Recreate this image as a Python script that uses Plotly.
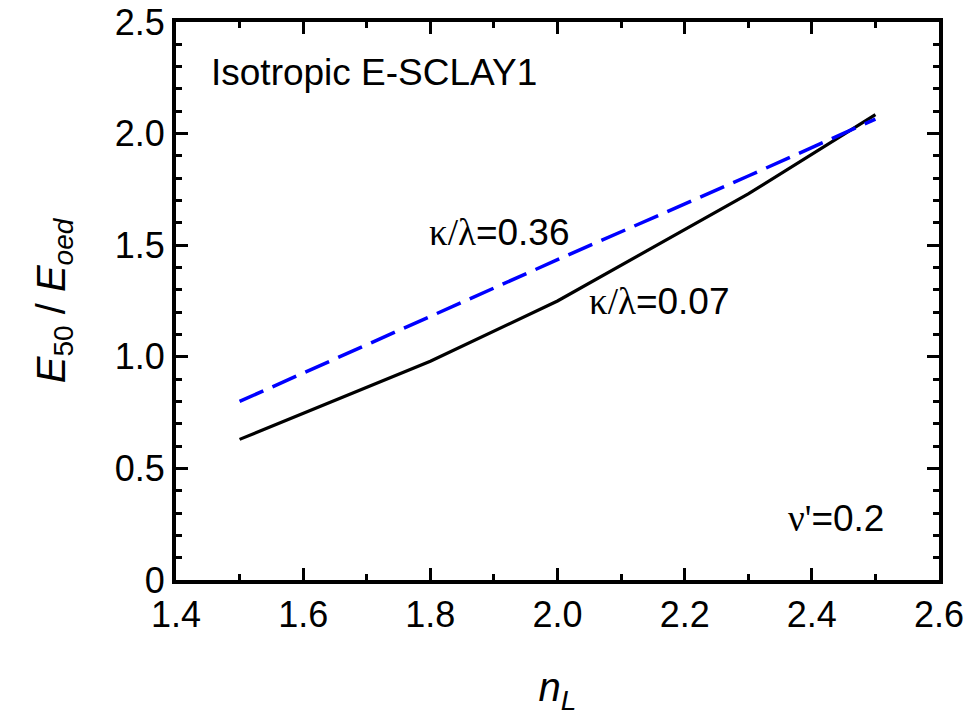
import plotly.graph_objects as go

# data
nL = [1.5, 1.8, 2.0, 2.3, 2.5]
ratio_007 = [0.63, 0.98, 1.25, 1.73, 2.085]
ratio_036 = [0.80, 1.18, 1.435, 1.81, 2.065]

x_ticks = [1.4, 1.6, 1.8, 2.0, 2.2, 2.4, 2.6]
y_ticks = [0, 0.5, 1.0, 1.5, 2.0, 2.5]
y_ticktext = ["0", "0.5", "1.0", "1.5", "2.0", "2.5"]

FONT = "Liberation Sans, Arial, sans-serif"

fig = go.Figure()
fig.add_trace(go.Scatter(x=nL, y=ratio_007, mode="lines",
                         line=dict(color="black", width=3.2), showlegend=False))
fig.add_trace(go.Scatter(x=nL, y=ratio_036, mode="lines",
                         line=dict(color="#0000ff", width=3.5, dash="26px,10px"), showlegend=False))

axis_common = dict(
    showline=True, linecolor="black", linewidth=4, mirror="ticks",
    ticks="inside", ticklen=12, tickwidth=3, tickcolor="black",
    showgrid=False, zeroline=False, automargin=False,
    tickfont=dict(family=FONT, size=36, color="black"),
)

fig.update_xaxes(range=[1.4, 2.6], tickvals=x_ticks,
                 ticktext=[f"{v:.1f}" for v in x_ticks],
                 minor=dict(dtick=0.1, ticklen=6, tickwidth=3, tickcolor="black", ticks="inside"),
                 title=dict(text="<i>n<sub>L</sub></i>", font=dict(family=FONT, size=40), standoff=40),
                 **axis_common)
fig.update_yaxes(range=[0, 2.5], tickvals=y_ticks, ticktext=y_ticktext,
                 minor=dict(dtick=0.1, ticklen=6, tickwidth=3, tickcolor="black", ticks="inside"),
                 title=dict(text="<i>E</i><sub>50</sub> / <i>E<sub>oed</sub></i>", font=dict(family=FONT, size=40), standoff=38),
                 **axis_common)

def ann(x, y, text):
    fig.add_annotation(x=x, y=y, xref="x", yref="y", text=text, showarrow=False,
                       xanchor="left", yanchor="middle",
                       font=dict(family=FONT, size=37, color="black"))

SER = "<span style='font-family:Liberation Serif, Times New Roman, serif'>"
ann(1.452, 2.275, "Isotropic E-SCLAY1")
ann(1.794, 1.555, SER + "κ/λ</span>=0.36")
ann(2.046, 1.25, SER + "κ/λ</span>=0.07")
ann(2.360, 0.275, SER + "ν'</span>=0.2")

fig.update_layout(
    width=969, height=724,
    margin=dict(l=176, r=30, t=22, b=144),
    plot_bgcolor="white", paper_bgcolor="white",
    font=dict(family=FONT, color="black"),
)

fig.write_html("out.html")
